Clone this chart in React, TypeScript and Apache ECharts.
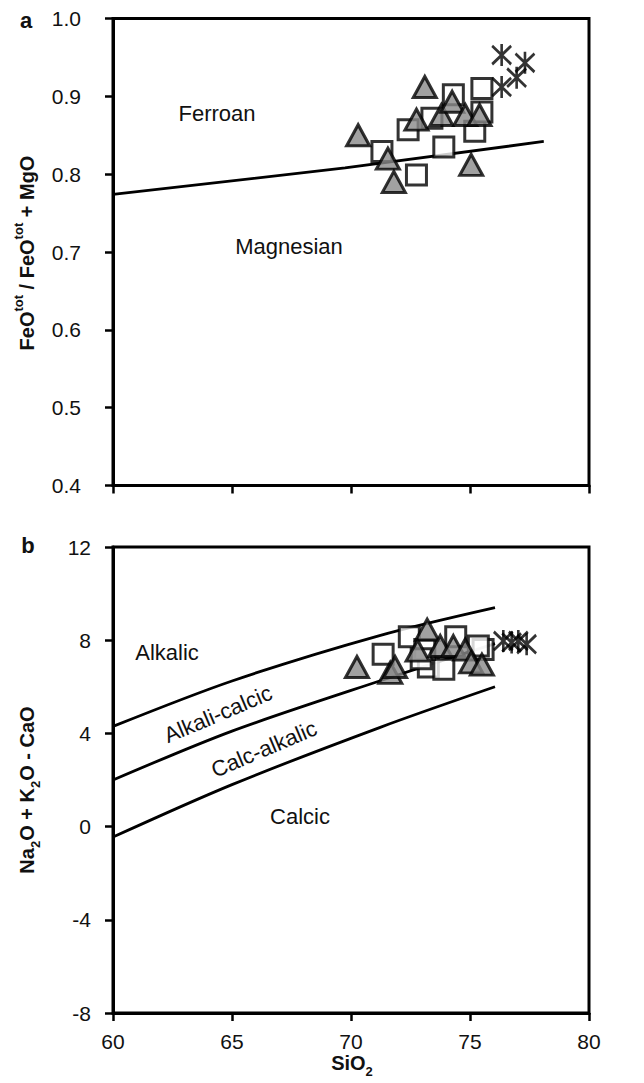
import React, { useEffect, useRef } from "react";
import * as echarts from "echarts";

// SiO2 axis (shared by both panels)
const silicaTicks = [60, 65, 70, 75, 80];
// Panel a: FeOtot / (FeOtot + MgO)
const ratioTicks = [0.4, 0.5, 0.6, 0.7, 0.8, 0.9, 1.0];
// Panel b: Na2O + K2O - CaO (MALI)
const maliTicks = [-8, -4, 0, 4, 8, 12];

// Ferroan / magnesian boundary
const ferroanLine: [number, number][] = [
  [60, 0.774],
  [69.75, 0.808],
  [78.1, 0.842],
];

// MALI field boundaries
const alkalicLine: [number, number][] = [
  [60, 4.3],
  [65, 6.25],
  [71.2, 8.2],
  [76.05, 9.4],
];
const alkaliCalcicLine: [number, number][] = [
  [60, 2.0],
  [65, 4.1],
  [71.2, 6.25],
  [76.05, 7.85],
];
const calcAlkalicLine: [number, number][] = [
  [60, -0.45],
  [65, 1.8],
  [71.2, 4.25],
  [76.05, 6.0],
];

// Panel a samples
const ratioTriangles: [number, number][] = [
  [70.3, 0.85], [71.55, 0.82], [71.8, 0.79], [73.1, 0.912], [72.75, 0.87],
  [73.8, 0.876], [74.25, 0.893], [74.8, 0.876], [75.4, 0.876], [75.05, 0.812],
];
const ratioSquares: [number, number][] = [
  [71.3, 0.829], [72.75, 0.799], [72.4, 0.857], [73.9, 0.835], [73.4, 0.872],
  [74.3, 0.902], [75.5, 0.91], [75.2, 0.855], [75.5, 0.88],
];
const ratioStars: [number, number][] = [
  [76.33, 0.953], [77.31, 0.943], [76.96, 0.924], [76.33, 0.912],
];

// Panel b samples
const maliTriangles: [number, number][] = [
  [70.25, 6.85], [71.65, 6.6], [71.85, 6.85], [73.2, 8.45], [72.8, 7.55],
  [73.75, 7.75], [74.3, 7.75], [74.8, 7.6], [75.05, 7.05], [75.5, 6.95],
];
const maliSquares: [number, number][] = [
  [71.35, 7.4], [72.45, 8.15], [73.25, 6.85], [73.9, 6.75], [74.4, 8.15],
  [73.1, 7.6], [75.55, 7.6], [75.35, 7.75], [72.95, 7.2],
];
const maliStars: [number, number][] = [
  [76.4, 7.97], [76.75, 7.9], [77.03, 7.97], [77.38, 7.83],
];

const FONT = '"Liberation Sans", Arial, Helvetica, sans-serif';
const STAR = "path://M0,2L20,22M20,2L0,22M10,0L10,24";

const axisLine = { show: true, onZero: false, lineStyle: { color: "#000", width: 3 } };
const axisTick = { show: true, inside: false, length: 8, lineStyle: { color: "#000", width: 2.5 } };

function xAxisFor(gridIndex: number, showLabels: boolean) {
  return {
    type: "value",
    gridIndex,
    min: silicaTicks[0],
    max: silicaTicks[silicaTicks.length - 1],
    interval: silicaTicks[1] - silicaTicks[0],
    axisLine,
    axisTick,
    splitLine: { show: false },
    axisLabel: {
      show: showLabels,
      margin: 18,
      fontSize: 21,
      fontFamily: FONT,
      color: "#111",
    },
  };
}

function yAxisFor(gridIndex: number, ticks: number[], margin: number, digits: number) {
  return {
    type: "value",
    gridIndex,
    min: ticks[0],
    max: ticks[ticks.length - 1],
    interval: ticks[1] - ticks[0],
    axisLine,
    axisTick,
    splitLine: { show: false },
    axisLabel: {
      margin,
      fontSize: 21,
      fontFamily: FONT,
      color: "#111",
      formatter: (v: number) => v.toFixed(digits),
    },
  };
}

function samples(axis: number, squares: [number, number][], triangles: [number, number][], stars: [number, number][]) {
  return [
    {
      type: "scatter",
      xAxisIndex: axis,
      yAxisIndex: axis,
      data: squares,
      symbol: "rect",
      symbolSize: 20,
      itemStyle: { color: "#fff", borderColor: "#000", borderWidth: 3 },
      z: 3,
      silent: true,
    },
    {
      type: "scatter",
      xAxisIndex: axis,
      yAxisIndex: axis,
      data: triangles,
      symbol: "triangle",
      symbolSize: [23, 21],
      itemStyle: { color: "#8a8a8a", borderColor: "#000", borderWidth: 3 },
      z: 4,
      silent: true,
    },
    {
      type: "scatter",
      xAxisIndex: axis,
      yAxisIndex: axis,
      data: stars,
      symbol: STAR,
      symbolSize: [19, 22],
      itemStyle: { color: "none", borderColor: "#000", borderWidth: 2.8 },
      z: 5,
      silent: true,
    },
  ];
}

function boundary(axis: number, data: [number, number][], smooth: boolean) {
  return {
    type: "line",
    xAxisIndex: axis,
    yAxisIndex: axis,
    data,
    smooth: smooth ? 0.3 : false,
    symbol: "none",
    lineStyle: { color: "#000", width: 2.8 },
    z: 2,
    silent: true,
  };
}

function label(text: string, x: number, y: number, rotationDeg = 0) {
  return {
    type: "text",
    x,
    y,
    rotation: (rotationDeg * Math.PI) / 180,
    style: {
      text,
      fontSize: 22,
      fontFamily: FONT,
      fill: "#111",
      align: "center",
      verticalAlign: "middle",
    },
  };
}

const titleRich = {
  m: { fontSize: 20, fontWeight: "bold", fontFamily: FONT, fill: "#111", lineHeight: 30 },
  sup: { fontSize: 13, fontWeight: "bold", fontFamily: FONT, fill: "#111", lineHeight: 14, verticalAlign: "top" },
  sub: { fontSize: 13, fontWeight: "bold", fontFamily: FONT, fill: "#111", lineHeight: 14, verticalAlign: "bottom" },
};

function title(text: string, x: number, y: number, rotation: number) {
  return {
    type: "text",
    x,
    y,
    rotation,
    style: {
      text,
      rich: titleRich,
      fontSize: 20,
      fontWeight: "bold",
      fontFamily: FONT,
      fill: "#111",
      align: "center",
      verticalAlign: "middle",
    },
  };
}

function panelLetter(text: string, x: number, y: number) {
  return {
    type: "text",
    x,
    y,
    style: {
      text,
      fontSize: 22,
      fontWeight: "bold",
      fontFamily: FONT,
      fill: "#111",
      align: "center",
      verticalAlign: "middle",
    },
  };
}

export default function App() {
  const ref = useRef<HTMLDivElement>(null);

  useEffect(() => {
    document.body.style.margin = "0";
    if (!ref.current) return;
    const chart = echarts.init(ref.current, undefined, { renderer: "svg" });

    const frame = { show: true, borderColor: "#000", borderWidth: 3, backgroundColor: "transparent" };

    chart.setOption({
      animation: false,
      backgroundColor: "#fff",
      grid: [
        { left: 113, top: 18.5, width: 476, height: 467, ...frame },
        { left: 113, top: 547, width: 476, height: 466, ...frame },
      ],
      xAxis: [xAxisFor(0, false), xAxisFor(1, true)],
      yAxis: [yAxisFor(0, ratioTicks, 32, 1), yAxisFor(1, maliTicks, 22, 0)],
      series: [
        boundary(0, ferroanLine, false),
        ...samples(0, ratioSquares, ratioTriangles, ratioStars),
        boundary(1, alkalicLine, true),
        boundary(1, alkaliCalcicLine, true),
        boundary(1, calcAlkalicLine, true),
        ...samples(1, maliSquares, maliTriangles, maliStars),
      ],
      graphic: [
        panelLetter("a", 26, 20),
        panelLetter("b", 28, 545),
        label("Ferroan", 217, 113),
        label("Magnesian", 289, 246),
        label("Alkalic", 167, 652),
        label("Alkali-calcic", 218, 714, 23),
        label("Calc-alkalic", 264, 749, 23),
        label("Calcic", 300, 816),
        title("{m|FeO}{sup|tot}{m| / FeO}{sup|tot}{m| + MgO}", 27, 253, Math.PI / 2),
        title("{m|Na}{sub|2}{m|O + K}{sub|2}{m|O - CaO}", 27, 790, Math.PI / 2),
        title("{m|SiO}{sub|2}", 352, 1063, 0),
      ],
    });

    return () => chart.dispose();
  }, []);

  return <div ref={ref} style={{ width: 644, height: 1083 }} />;
}
